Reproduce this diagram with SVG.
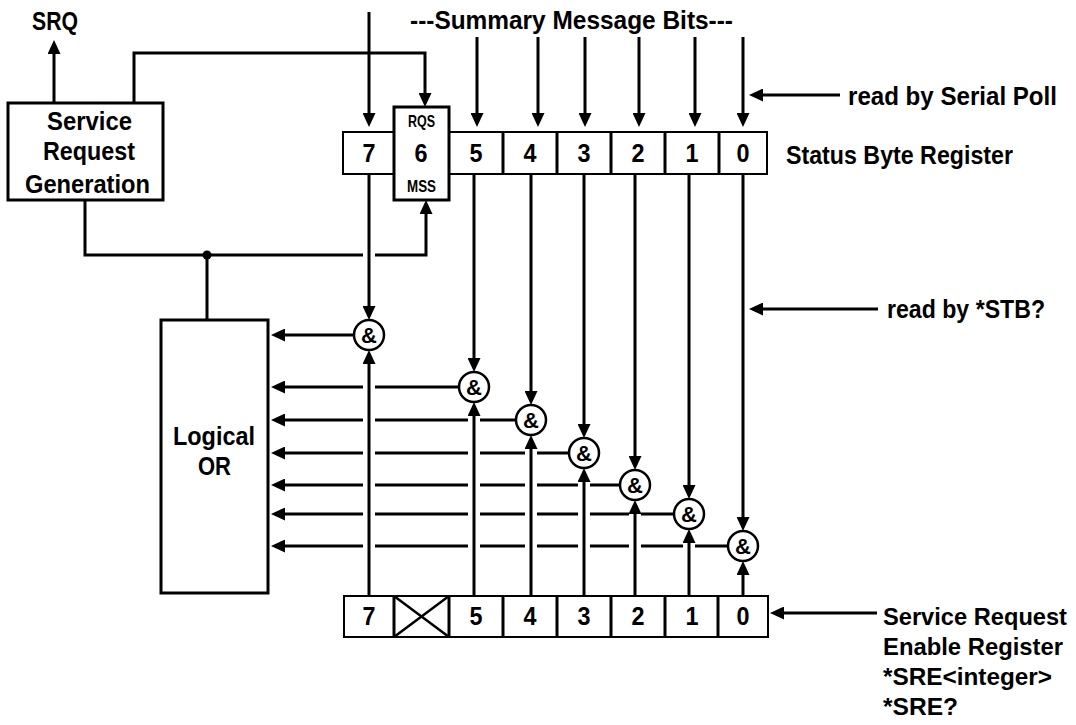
<svg xmlns="http://www.w3.org/2000/svg" width="1076" height="725" viewBox="0 0 1076 725">
<style>
text{font-family:"Liberation Sans Narrow","Liberation Sans",Arial,sans-serif;font-weight:bold;fill:#000}
.ln{stroke:#000;stroke-width:3;fill:none}
.halo{stroke:#fff;stroke-width:12;fill:none}
.box{stroke:#000;stroke-width:3;fill:#fff}
.reg{stroke:#000;stroke-width:2;fill:#fff}
.div{stroke:#000;stroke-width:3}
.and{stroke:#000;stroke-width:2.5;fill:#fff}
.lbl{font-size:25.5px}
.sre{font-size:24px}
.dig{font-size:25px;text-anchor:middle}
.sm{font-size:16.5px}
.amp{font-size:22px;text-anchor:middle}
</style>
<defs>
<marker id="ah" markerUnits="userSpaceOnUse" markerWidth="14" markerHeight="13" refX="10" refY="6.5" orient="auto" viewBox="0 0 14 13"><path d="M0,0 L14,6.5 L0,13 z" fill="#000"/></marker>
</defs>

<g id="labels">
<text class="lbl" x="32" y="30" textLength="46" lengthAdjust="spacingAndGlyphs">SRQ</text>
<text class="lbl" x="410" y="29" textLength="323" lengthAdjust="spacingAndGlyphs">---Summary Message Bits---</text>
<text class="lbl" x="848" y="105" textLength="209" lengthAdjust="spacingAndGlyphs">read by Serial Poll</text>
<text class="lbl" x="786" y="164" textLength="227" lengthAdjust="spacingAndGlyphs">Status Byte Register</text>
<text class="lbl" x="887" y="318" textLength="158" lengthAdjust="spacingAndGlyphs">read by *STB?</text>
<text class="sre" x="883" y="625" textLength="184" lengthAdjust="spacingAndGlyphs">Service Request</text>
<text class="sre" x="883" y="655" textLength="180" lengthAdjust="spacingAndGlyphs">Enable Register</text>
<text class="sre" x="883" y="685" textLength="169" lengthAdjust="spacingAndGlyphs">*SRE&lt;integer&gt;</text>
<text class="sre" x="883" y="715" textLength="75" lengthAdjust="spacingAndGlyphs">*SRE?</text>
</g>

<g id="connectors">
<path class="ln" marker-end="url(#ah)" d="M354,335 H275"/>
<path class="ln" marker-end="url(#ah)" d="M459,387 H275"/>
<path class="ln" marker-end="url(#ah)" d="M516,420 H275"/>
<path class="ln" marker-end="url(#ah)" d="M569,453 H275"/>
<path class="ln" marker-end="url(#ah)" d="M620,485 H275"/>
<path class="ln" marker-end="url(#ah)" d="M674,514 H275"/>
<path class="ln" marker-end="url(#ah)" d="M728,546 H275"/>
<path class="ln" marker-end="url(#ah)" d="M54,103 V44"/>
<path class="ln" marker-end="url(#ah)" d="M134,103 V53 H425 V103"/>
<path class="ln" marker-end="url(#ah)" d="M85,200 V255 H426 V204"/>
<path class="ln" d="M207,255 V320"/>
<path class="halo" d="M369,180 V310"/>
<path class="halo" d="M369,590 V350"/>
<path class="halo" d="M474,590 V402"/>
<path class="halo" d="M531,590 V435"/>
<path class="halo" d="M584,590 V468"/>
<path class="halo" d="M635,590 V500"/>
<path class="halo" d="M689,590 V529"/>
<path class="ln" marker-end="url(#ah)" d="M369,12 V123"/>
<path class="ln" marker-end="url(#ah)" d="M477,37 V123"/>
<path class="ln" marker-end="url(#ah)" d="M538,37 V123"/>
<path class="ln" marker-end="url(#ah)" d="M585,37 V123"/>
<path class="ln" marker-end="url(#ah)" d="M639,37 V123"/>
<path class="ln" marker-end="url(#ah)" d="M695,37 V123"/>
<path class="ln" marker-end="url(#ah)" d="M743,37 V123"/>
<path class="ln" marker-end="url(#ah)" d="M840,95 H753"/>
<path class="ln" marker-end="url(#ah)" d="M878,309 H753"/>
<path class="ln" marker-end="url(#ah)" d="M877,613 H774"/>
<path class="ln" marker-end="url(#ah)" d="M369,174 V316"/>
<path class="ln" marker-end="url(#ah)" d="M474,174 V368"/>
<path class="ln" marker-end="url(#ah)" d="M531,174 V401"/>
<path class="ln" marker-end="url(#ah)" d="M584,174 V434"/>
<path class="ln" marker-end="url(#ah)" d="M635,174 V466"/>
<path class="ln" marker-end="url(#ah)" d="M689,174 V495"/>
<path class="ln" marker-end="url(#ah)" d="M743,174 V527"/>
<path class="ln" marker-end="url(#ah)" d="M369,596 V354"/>
<path class="ln" marker-end="url(#ah)" d="M474,596 V406"/>
<path class="ln" marker-end="url(#ah)" d="M531,596 V439"/>
<path class="ln" marker-end="url(#ah)" d="M584,596 V472"/>
<path class="ln" marker-end="url(#ah)" d="M635,596 V504"/>
<path class="ln" marker-end="url(#ah)" d="M689,596 V533"/>
<path class="ln" marker-end="url(#ah)" d="M743,596 V565"/>
<circle cx="207" cy="255" r="4.5" fill="#000"/>
</g>

<g id="srg">
<rect class="box" x="8" y="103" width="155" height="97"/>
<text class="lbl" x="47" y="130" textLength="85" lengthAdjust="spacingAndGlyphs">Service</text>
<text class="lbl" x="43" y="160" textLength="92" lengthAdjust="spacingAndGlyphs">Request</text>
<text class="lbl" x="25" y="193" textLength="125" lengthAdjust="spacingAndGlyphs">Generation</text>
</g>

<g id="logical-or">
<rect class="box" x="161" y="320" width="107" height="273"/>
<text class="lbl" x="173" y="445" textLength="82" lengthAdjust="spacingAndGlyphs">Logical</text>
<text class="lbl" x="198" y="475" textLength="33" lengthAdjust="spacingAndGlyphs">OR</text>
</g>

<g id="status-byte-register">
<rect class="reg" x="343" y="132" width="424" height="42"/>
<line class="div" x1="503" y1="132" x2="503" y2="174"/>
<line class="div" x1="557" y1="132" x2="557" y2="174"/>
<line class="div" x1="611" y1="132" x2="611" y2="174"/>
<line class="div" x1="665" y1="132" x2="665" y2="174"/>
<line class="div" x1="719" y1="132" x2="719" y2="174"/>
<rect class="box" x="394" y="107" width="55" height="93"/>
<text class="dig" x="369" y="162" textLength="13" lengthAdjust="spacingAndGlyphs">7</text>
<text class="sm" x="408" y="127" textLength="27" lengthAdjust="spacingAndGlyphs">RQS</text>
<text class="dig" x="421" y="162" textLength="13" lengthAdjust="spacingAndGlyphs">6</text>
<text class="sm" x="407" y="192" textLength="29" lengthAdjust="spacingAndGlyphs">MSS</text>
<text class="dig" x="476" y="162" textLength="13" lengthAdjust="spacingAndGlyphs">5</text>
<text class="dig" x="530" y="162" textLength="13" lengthAdjust="spacingAndGlyphs">4</text>
<text class="dig" x="584" y="162" textLength="13" lengthAdjust="spacingAndGlyphs">3</text>
<text class="dig" x="638" y="162" textLength="13" lengthAdjust="spacingAndGlyphs">2</text>
<text class="dig" x="692" y="162" textLength="13" lengthAdjust="spacingAndGlyphs">1</text>
<text class="dig" x="743" y="162" textLength="13" lengthAdjust="spacingAndGlyphs">0</text>
</g>

<g id="enable-register">
<rect class="reg" x="344" y="596" width="424" height="41"/>
<line class="div" x1="394" y1="596" x2="394" y2="637"/>
<line class="div" x1="449" y1="596" x2="449" y2="637"/>
<line class="div" x1="503" y1="596" x2="503" y2="637"/>
<line class="div" x1="557" y1="596" x2="557" y2="637"/>
<line class="div" x1="611" y1="596" x2="611" y2="637"/>
<line class="div" x1="665" y1="596" x2="665" y2="637"/>
<line class="div" x1="718" y1="596" x2="718" y2="637"/>
<line stroke="#000" stroke-width="2.5" x1="394" y1="596" x2="449" y2="637"/>
<line stroke="#000" stroke-width="2.5" x1="449" y1="596" x2="394" y2="637"/>
<text class="dig" x="369" y="625" textLength="13" lengthAdjust="spacingAndGlyphs">7</text>
<text class="dig" x="476" y="625" textLength="13" lengthAdjust="spacingAndGlyphs">5</text>
<text class="dig" x="530" y="625" textLength="13" lengthAdjust="spacingAndGlyphs">4</text>
<text class="dig" x="584" y="625" textLength="13" lengthAdjust="spacingAndGlyphs">3</text>
<text class="dig" x="638" y="625" textLength="13" lengthAdjust="spacingAndGlyphs">2</text>
<text class="dig" x="692" y="625" textLength="13" lengthAdjust="spacingAndGlyphs">1</text>
<text class="dig" x="743" y="625" textLength="13" lengthAdjust="spacingAndGlyphs">0</text>
</g>

<g id="and7"><circle class="and" cx="369" cy="335" r="15"/><text class="amp" x="369" y="343">&amp;</text></g>
<g id="and5"><circle class="and" cx="474" cy="387" r="15"/><text class="amp" x="474" y="395">&amp;</text></g>
<g id="and4"><circle class="and" cx="531" cy="420" r="15"/><text class="amp" x="531" y="428">&amp;</text></g>
<g id="and3"><circle class="and" cx="584" cy="453" r="15"/><text class="amp" x="584" y="461">&amp;</text></g>
<g id="and2"><circle class="and" cx="635" cy="485" r="15"/><text class="amp" x="635" y="493">&amp;</text></g>
<g id="and1"><circle class="and" cx="689" cy="514" r="15"/><text class="amp" x="689" y="522">&amp;</text></g>
<g id="and0"><circle class="and" cx="743" cy="546" r="15"/><text class="amp" x="743" y="554">&amp;</text></g>
</svg>
